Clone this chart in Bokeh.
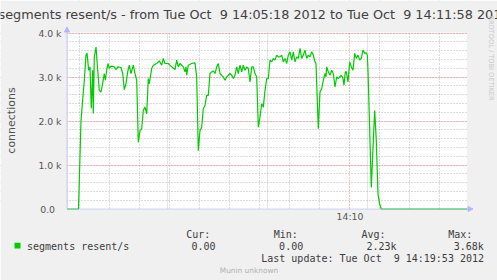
import math
from bokeh.plotting import figure
from bokeh.models import (FixedTicker, Label, ColumnDataSource, Range1d, Grid,
                          BoxAnnotation, Arrow, NormalHead)
from bokeh.embed import file_html
from bokeh.resources import INLINE

# ---- data: seconds since 14:05:18 and segments resent per second ----
t = [0, 11.5, 14, 17.3, 19, 20, 21.7, 23, 24.3, 25.7, 26.3, 27.3, 29, 30.7, 32.3, 34, 35.7,
     37.3, 38.3, 39.7, 41, 42.3, 44, 47.3, 49, 51, 54, 55.7, 57.3, 59, 60.7, 62.3, 64, 66.3,
     68, 69.7, 71.3, 73, 74.7, 76.3, 78, 79.7, 81.3, 82.3, 84.7, 86.3, 89.7, 92.3, 94.7, 96.3,
     98, 101.3, 104.7, 108, 109.7, 111.3, 113, 116.3, 118, 119, 119.7, 121.3, 124.7, 128,
     129.7, 131.3, 133, 134.7, 136.3, 138, 139.7, 141.3, 143, 144.7, 146.3, 148, 149.7, 151.3,
     153, 156.3, 158, 159.7, 163, 164.7, 166.3, 168, 169.7, 171.3, 173, 174.7, 176.3, 178,
     179.7, 181.3, 183, 184.7, 186.3, 188, 189.7, 191.3, 193, 194.7, 196.3, 198, 199.7, 201.3,
     203, 204.7, 206.3, 208, 209.7, 211.3, 213, 214.7, 216.3, 218, 219.7, 221.3, 223, 224.7,
     226.3, 228, 229.7, 231.3, 233, 234.7, 236.3, 238, 239.7, 241.3, 243, 244.7, 246.3, 248,
     249, 251.3, 253, 254.7, 256.3, 258, 259, 259.7, 261.3, 263, 264.7, 266.3, 268, 269.7,
     271.3, 272.7, 274.3, 276, 277, 278.3, 279.3, 281, 282.7, 284.3, 286, 287.7, 289.3, 291,
     292.7, 294.3, 296, 297.7, 299.3, 300.3, 301, 302.7, 304.3, 306, 307.7, 309.3, 311, 312.7,
     314.3, 400]
v = [0, 0, 2011, 2926, 3497, 3543, 3154, 3230, 2286, 3154, 2171, 3458, 3680, 3154, 2697, 2658,
     2857, 3079, 2926, 3154, 3307, 3193, 3246, 3230, 3170, 3230, 3216, 3079, 2713, 2850, 3116,
     3269, 3079, 3269, 3079, 2926, 1515, 1783, 1822, 2240, 2315, 2165, 2965, 2850, 3193, 3269,
     3307, 3367, 3269, 3422, 3307, 3307, 3230, 3170, 3383, 3230, 3307, 3230, 3116, 3230, 3040,
     3269, 3307, 3321, 3001, 1326, 1783, 1858, 2279, 2354, 2583, 2583, 3079, 3116, 3138, 3079,
     3230, 3307, 3079, 3001, 2926, 3001, 3079, 3040, 2965, 3040, 3230, 3079, 3269, 3116, 3269,
     3154, 3230, 3193, 2887, 3230, 3230, 3079, 3001, 1858, 2087, 2393, 2315, 2697, 2965, 2965,
     3383, 3344, 3422, 3383, 3497, 3458, 3458, 3497, 3344, 3422, 3307, 3497, 3573, 3383, 3573,
     3344, 3458, 3422, 3650, 3422, 3497, 3611, 3422, 3497, 3458, 3573, 3497, 3344, 3307, 1822,
     2658, 2736, 2926, 3079, 3001, 3230, 3116, 3040, 3154, 3079, 2773, 3001, 2965, 3001, 3040,
     2965, 2811, 3116, 3116, 2887, 3344, 3230, 3154, 3536, 3422, 3497, 3383, 3422, 3611, 3536,
     3550, 3497, 3154, 1783, 487, 1401, 2240, 1554, 335, 107, 0, 0]

y_ticks = [0, 1000, 2000, 3000, 4000]
y_labels = ["0.0", "1.0 k", "2.0 k", "3.0 k", "4.0 k"]
y_minor = [200 * i for i in range(1, 20) if i % 5]
x_major = [282]
x_labels = ["14:10"]
x_minor = [12 + 30 * i for i in range(13) if 12 + 30 * i not in x_major]

title = "segments resent/s - from Tue Oct  9 14:05:18 2012 to Tue Oct  9 14:11:58 2012"
y_title = "connections"
watermark = "RRDTOOL / TOBI OETIKER"
legend_name = "segments resent/s"
headers = ["Cur:", "Min:", "Avg:", "Max:"]
stats = ["0.00", "0.00", "2.23k", "3.68k"]
last_update = "Last update: Tue Oct  9 14:19:53 2012"
footer = "Munin unknown"

GREEN = "#00CC00"
AXIS = "#B4B4FF"
TXT = "#3C3C3C"

# ---- geometry: canvas pixels <-> data ----
W, H = 497, 280
FL, FT, FW, FH = 66.5, 32.5, 400, 176      # plot area in canvas pixels
XMAX, YMAX = 400, 4000                      # data extent of plot area


def xd(px):
    return (px - FL) * XMAX / FW


def yd(py):
    return (FT + FH - py) * YMAX / FH


def keep_spaces(s):
    # keep runs of blanks visible in SVG text
    return s.replace("  ", " \u00a0")


p = figure(width=W, height=H, output_backend="svg", toolbar_location=None,
           x_range=Range1d(xd(0), xd(W)), y_range=Range1d(yd(H), yd(0)),
           x_axis_location=None, y_axis_location=None,
           min_border_left=0, min_border_right=0, min_border_top=0, min_border_bottom=0)
p.background_fill_color = "white"
p.border_fill_color = "#F0F0F0"
p.outline_line_color = None

# grids
xg = Grid(dimension=0, ticker=FixedTicker(ticks=x_major, minor_ticks=x_minor),
          grid_line_color="#E48484", grid_line_dash="1 2",
          minor_grid_line_color="#B8B8B8", minor_grid_line_dash="1 2")
yg = Grid(dimension=1, ticker=FixedTicker(ticks=y_ticks[1:], minor_ticks=y_minor),
          grid_line_color="#E48484", grid_line_dash="1 2",
          minor_grid_line_color="#B8B8B8", minor_grid_line_dash="1 2")
p.add_layout(xg)
p.add_layout(yg)

# grey surround (hides grid outside the plot area)
BG = "#F0F0F0"
for kw in (dict(right=0), dict(left=XMAX), dict(left=0, right=XMAX, bottom=yd(FT - 0.5)),
           dict(left=0, right=XMAX, top=0)):
    p.add_layout(BoxAnnotation(fill_color=BG, fill_alpha=1, line_color=None, level="underlay", **kw))

src = ColumnDataSource(data=dict(t=t, v=v))
p.line("t", "v", source=src, line_color=GREEN, line_width=1.2)

# axis lines with arrows
head = dict(size=5, fill_color=AXIS, line_color=AXIS)
p.add_layout(Arrow(end=NormalHead(**head), x_start=0, y_start=0, x_end=xd(FL + FW + 6), y_end=0,
                   line_color=AXIS, line_alpha=0.6, line_width=1))
p.add_layout(Arrow(end=NormalHead(**head), x_start=0, y_start=0, x_end=0, y_end=yd(FT - 6),
                   line_color=AXIS, line_alpha=0.6, line_width=1))


def lab(x, y, text, size="10px", font="DejaVu Sans Mono", color=TXT, align="left", angle=0):
    p.add_layout(Label(x=x, y=y, text=keep_spaces(text), text_font=font, text_font_size=size,
                       text_color=color, text_align=align, text_baseline="middle", angle=angle))


# tick labels
for tk, s in zip(y_ticks, y_labels):
    lab(xd(61 if s.endswith("k") else 54.5), tk, s, size="9.3px", font="DejaVu Sans",
        color="#555555", align="right")
for tk, s in zip(x_major, x_labels):
    lab(tk + xd(FL + 1), yd(216), s, size="9.3px", font="DejaVu Sans", color="#555555",
        align="center")

lab(xd(253.5), yd(14), title, size="12.8px", font="DejaVu Sans", color="#404040", align="center")
lab(xd(11), yd(120), y_title, size="11px", font="DejaVu Sans", color="#505050", align="center",
    angle=math.pi / 2)
lab(xd(490), yd(57.5), watermark, size="6.6px", font="DejaVu Sans", color="#C8C8C8",
    align="center", angle=-math.pi / 2)

hx = [185.7, 273.3, 361, 447.7]
vx = [215, 302.7, 396, 483.3]
for x, s in zip(hx, headers):
    lab(xd(x), yd(233.5), s)
for x, s in zip(vx, stats):
    lab(xd(x), yd(245.5), s, align="right")
lab(xd(26.5), yd(245.5), legend_name)
p.add_layout(BoxAnnotation(left=xd(14), right=xd(20), top=yd(242.3), bottom=yd(248),
                           fill_color=GREEN, fill_alpha=1, line_color=None))
lab(xd(483.5), yd(257.5), last_update, align="right")
lab(xd(248.5), yd(269.5), footer, size="7.4px", font="DejaVu Sans", color="#B0B0B0",
    align="center")

open("out.html", "w").write(file_html(p, INLINE))
